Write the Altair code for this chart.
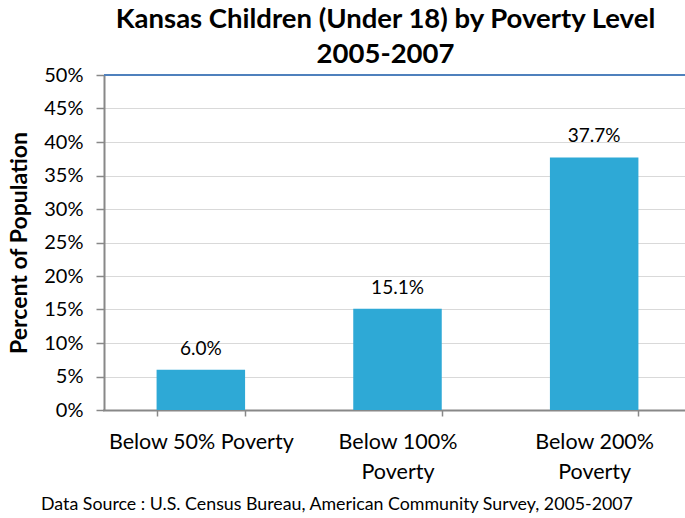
import altair as alt
import pandas as pd

categories = ["Below 50% Poverty", "Below 100% Poverty", "Below 200% Poverty"]
values = [6.0, 15.1, 37.7]
value_labels = ["6.0%", "15.1%", "37.7%"]
title_lines = ["Kansas Children (Under 18) by Poverty Level", "2005-2007"]
y_title = "Percent of Population"
y_ticks = [0, 5, 10, 15, 20, 25, 30, 35, 40, 45, 50]
footer = "Data Source : U.S. Census Bureau, American Community Survey, 2005-2007"

df = pd.DataFrame({"cat": categories, "val": values, "lab": value_labels})

FONT = "Lato"
W, H = 581, 335

label_expr = (
    "datum.label == 'Below 100% Poverty' ? ['Below 100%', 'Poverty'] : "
    "datum.label == 'Below 200% Poverty' ? ['Below 200%', 'Poverty'] : datum.label"
)

x_enc = alt.X(
    "cat:N",
    sort=categories,
    scale=alt.Scale(paddingInner=0.55, paddingOuter=0.275, range=[-1.5, 588.5]),
    axis=alt.Axis(
        title=None,
        labelAngle=0,
        labelFont=FONT,
        labelFontSize=21.5,
        labelColor="#000000",
        labelPadding=15,
        labelLineHeight=30,
        labelBaseline="top",
        labelLimit=400,
        labelExpr=label_expr,
        domainColor="#888888",
        domainWidth=2,
        tickColor="#888888",
        tickWidth=1.5,
        tickSize=6,
        tickBand="extent",
        grid=False,
    ),
)

y_enc = alt.Y(
    "val:Q",
    scale=alt.Scale(domain=[0, 50]),
    axis=alt.Axis(
        title=y_title,
        titleFont=FONT,
        titleFontSize=23,
        titleFontWeight="bold",
        titleColor="#000000",
        titlePadding=12,
        values=y_ticks,
        labelExpr="datum.value + '%'",
        labelOverlap=False,
        labelFont=FONT,
        labelFontSize=20,
        labelColor="#000000",
        labelPadding=13,
        domainColor="#888888",
        domainWidth=2,
        tickColor="#888888",
        tickWidth=1.5,
        tickSize=8,
        gridColor="#D9D9D9",
        gridWidth=1.2,
    ),
)

bars = alt.Chart(df).mark_bar(color="#2EA9D6").encode(x=x_enc, y=y_enc)

labels = alt.Chart(df).mark_text(
    font=FONT, fontSize=19, color="#000000", dy=-21, baseline="middle"
).encode(x=x_enc, y=y_enc, text="lab:N")

top_rule = alt.Chart(df).mark_rule(color="#4F81BD", strokeWidth=2).encode(
    x=alt.value(0), x2=alt.value(W), y=alt.value(0)
)

foot = alt.Chart(df.head(1)).mark_text(
    font=FONT, fontSize=17.8, color="#000000", align="center", baseline="middle"
).encode(x=alt.value(233), y=alt.value(430), text=alt.value(footer))

chart = (
    alt.layer(bars, labels, top_rule, foot)
    .properties(
        width=W,
        height=H,
        title=alt.TitleParams(
            text=title_lines,
            font=FONT,
            fontSize=27.5,
            fontWeight="bold",
            color="#000000",
            lineHeight=35,
            anchor="middle",
            offset=-3,
            dx=-9,
        ),
        autosize=alt.AutoSizeParams(type="none"),
        padding={"left": 104, "top": 75, "right": 0, "bottom": 108},
    )
    .configure_view(stroke=None)
    .configure(background="white")
)

chart.save("out.html", embed_options={"renderer": "svg", "actions": False})
